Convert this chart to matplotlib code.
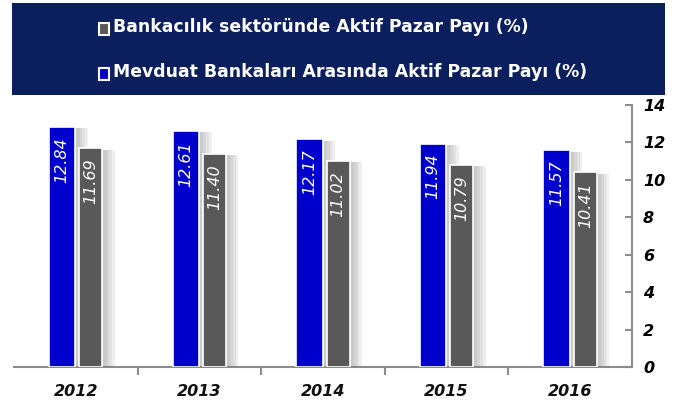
import numpy as np
import matplotlib
matplotlib.use('Agg')
import matplotlib.pyplot as plt
import matplotlib.patheffects as pe
from matplotlib.patches import Rectangle

# Data
years = ['2012', '2013', '2014', '2015', '2016']
mevduat = [12.84, 12.61, 12.17, 11.94, 11.57]
sektor = [11.69, 11.40, 11.02, 10.79, 10.41]
lbl_sektor = 'Bankacılık sektöründe Aktif Pazar Payı (%)'
lbl_mevduat = 'Mevduat Bankaları Arasında Aktif Pazar Payı (%)'

blue = '#0000CC'
grey = '#595959'
navy = '#0B1F5E'
axis_grey = '#8C8C8C'

fig = plt.figure(figsize=(6.75, 4.05), dpi=100)
ax = fig.add_axes([14 / 675, 38 / 405, 618 / 675, 262 / 405])

x = np.arange(len(years))
# soft drop shadow to the right
shadow = [pe.SimplePatchShadow(offset=(d, -1), shadow_rgbFace='#808080', alpha=0.12)
          for d in (9, 7, 5, 3)] + [pe.Normal()]
b1 = ax.bar(x - 0.11, mevduat, width=0.215, color=blue, edgecolor='white', linewidth=1.2,
            path_effects=shadow, zorder=3)
b2 = ax.bar(x + 0.122, sektor, width=0.186, color=grey, edgecolor='white', linewidth=1.2,
            path_effects=shadow, zorder=3)

for bars, vals in ((b1, mevduat), (b2, sektor)):
    for r, v in zip(bars, vals):
        ax.text(r.get_x() + r.get_width() / 2, v - 0.55, '{:.2f}'.format(v), rotation=90,
                ha='center', va='top', color='white', fontsize=11.5, style='italic', zorder=4)

ax.set_xlim(-0.5, 4.5)
ax.set_ylim(0, 14)
ax.set_yticks(range(0, 15, 2))
ax.yaxis.tick_right()
ax.tick_params(axis='y', direction='in', length=5, color=axis_grey, width=1.5, pad=8,
               labelsize=11.5)
for t in ax.get_yticklabels():
    t.set_fontstyle('italic')
    t.set_fontweight('bold')

ax.set_xticks(np.arange(0.5, 4.0, 1.0))
ax.set_xticklabels([])
ax.tick_params(axis='x', direction='out', length=6, color=axis_grey, width=1.5)
for i, yr in enumerate(years):
    ax.text(i, -0.9, yr, ha='center', va='top', fontsize=11.5, style='italic', fontweight='bold',
            color='#111111')

for s in ('top', 'left'):
    ax.spines[s].set_visible(False)
for s in ('right', 'bottom'):
    ax.spines[s].set_color(axis_grey)
    ax.spines[s].set_linewidth(1.5)

# Legend panel
fig.patches.append(Rectangle((0.018, 0.765), 0.967, 0.228, transform=fig.transFigure,
                             facecolor=navy, edgecolor='none'))
for yy, col, txt in ((0.933, grey, lbl_sektor), (0.822, blue, lbl_mevduat)):
    fig.patches.append(Rectangle((0.146, yy - 0.02), 0.016, 0.03, transform=fig.transFigure,
                                 facecolor=col, edgecolor='white', linewidth=1.5))
    fig.text(0.168, yy, txt, color='white', fontsize=12.4, fontweight='bold', va='center',
             ha='left')

fig.savefig('out.png', dpi=100)
